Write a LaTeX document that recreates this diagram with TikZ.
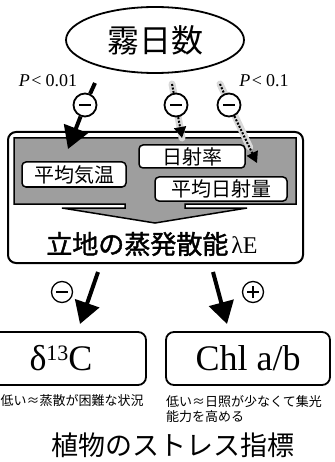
\documentclass[tikz,border=0pt]{standalone}
\usepackage{fontspec}
\setmainfont{Liberation Serif}
\newfontfamily\jp{Noto Sans CJK JP}
\newfontfamily\jpbold[FakeBold=1.6]{Noto Sans CJK JP}
\usetikzlibrary{arrows.meta,shapes.geometric,calc}
\newcommand\fsz[1]{\fontsize{#1}{#1}\selectfont}
\tikzset{
  sign/.style={circle, draw, line width=1.8pt, fill=white, minimum size=23pt, inner sep=0pt},
  signsmall/.style={circle, draw, line width=1.3pt, fill=white, minimum size=21pt, inner sep=0pt},
  minus/.style={path picture={\draw[line width=1.3pt] ([xshift=-6pt]path picture bounding box.center) -- ([xshift=6pt]path picture bounding box.center);}},
  plus/.style={path picture={\draw[line width=1.3pt] ([xshift=-6pt]path picture bounding box.center) -- ([xshift=6pt]path picture bounding box.center) ([yshift=-6pt]path picture bounding box.center) -- ([yshift=6pt]path picture bounding box.center);}},
  bigarrow/.style={line width=4pt, -{Triangle[length=22pt,width=25pt]}},
  bigline/.style={line width=4pt},
  dotline/.style={line width=2pt, dash pattern=on 2pt off 1.6pt},
  dotarrow/.style={dotline, -{Triangle[length=11pt,width=12pt]}},
  halo/.style={line width=7pt, gray!30, line cap=round},
  item/.style={draw, fill=white, rounded corners=4pt, line width=1.5pt, inner sep=0pt, font=\jp\fsz{20}},
  result/.style={draw, rounded corners=8pt, line width=1.8pt, minimum height=53pt, inner sep=0pt, font=\fsz{36}},
  plabel/.style={inner sep=0pt, font=\fsz{18}},
}
\begin{document}
\begin{tikzpicture}[x=1pt,y=-1pt]
\useasboundingbox[fill=white] (0,0) rectangle (334,462);

% top ellipse
\node[ellipse, draw, line width=1.8pt, minimum width=178pt, minimum height=66pt, inner sep=0pt, font=\jp\fsz{32}] (fog) at (155,40) {霧日数};

\node[plabel] (p1) at (48,81) {{\itshape P}\hspace{1.5pt}<\hspace{4pt}0.01};
\node[plabel] (p2) at (264,81) {{\itshape P}\hspace{1.5pt}<\hspace{4pt}0.1};

% panel
\node[draw, rounded corners=8pt, line width=2pt, minimum width=295pt, minimum height=131pt, inner sep=0pt] (panel) at (155.5,197.5) {};
\draw[fill=black!38, line width=1.5pt] (14,138) -- (296,138) -- (296,204) -- (185,204) -- (185,208) -- (247,208) -- (155,223) -- (62,208) -- (125,208) -- (125,204) -- (14,204) -- cycle;

\node[item, minimum width=104pt, minimum height=25pt] (temp) at (74,174.5) {平均気温};
\node[item, minimum width=106pt, minimum height=23pt] (rate) at (192,156.5) {日射率};
\node[item, minimum width=132pt, minimum height=24pt] (rad) at (221,189) {平均日射量};

\node[font=\jpbold\fsz{26}, inner sep=0pt] (et) at (152,244) {立地の蒸発散能\hspace{3pt}{\rmfamily\fsz{24}λE}};

% top connectors
\coordinate (a1) at (95,83);  \coordinate (t1) at (68,149);
\coordinate (a2) at (172,84); \coordinate (t2) at (182,138);
\coordinate (a3) at (220,84); \coordinate (t3) at (257,163);
\draw[halo] (a2) -- (t2);
\draw[halo] (a3) -- ($(t3)!0.2!(a3)$);
\node[sign, minus] (m1) at (85,105) {};
\node[sign, minus] (m2) at (176,105) {};
\node[sign, minus] (m3) at (229,105) {};
\draw[bigline] (a1) -- (m1);
\draw[bigarrow] (m1) -- (t1);
\draw[dotline] (a2) -- (m2);
\draw[dotarrow] (m2) -- (t2);
\draw[dotline] (a3) -- (m3);
\draw[dotarrow] (m3) -- (t3);

% lower connectors
\coordinate (b1) at (98,272);  \coordinate (c1) at (80,324);
\coordinate (b2) at (213,272); \coordinate (c2) at (227,324);
\draw[bigarrow] (b1) -- (c1);
\draw[bigarrow] (b2) -- (c2);
\node[signsmall, minus] (s1) at (62,292) {};
\node[signsmall, plus] (s2) at (253,292) {};

% result boxes
\node[result, minimum width=170pt] (d13c) at (61,358.5) {δ\raisebox{10pt}{\fsz{22}13}C};
\node[result, minimum width=164pt] (chl) at (248,358.5) {Chl a/b};

\node[font=\jp\fsz{13}, inner sep=0pt, anchor=west] (cap1) at (0.5,401) {低い≈蒸散が困難な状況};
\node[font=\jp\fontsize{13}{15.5}\selectfont, align=left, inner sep=0pt, anchor=north west] (cap2) at (166,395) {低い≈日照が少なくて集光\\能力を高める};

\node[font=\jp\fsz{27}, inner sep=0pt] (title) at (173,445) {植物のストレス指標};
\end{tikzpicture}
\end{document}
